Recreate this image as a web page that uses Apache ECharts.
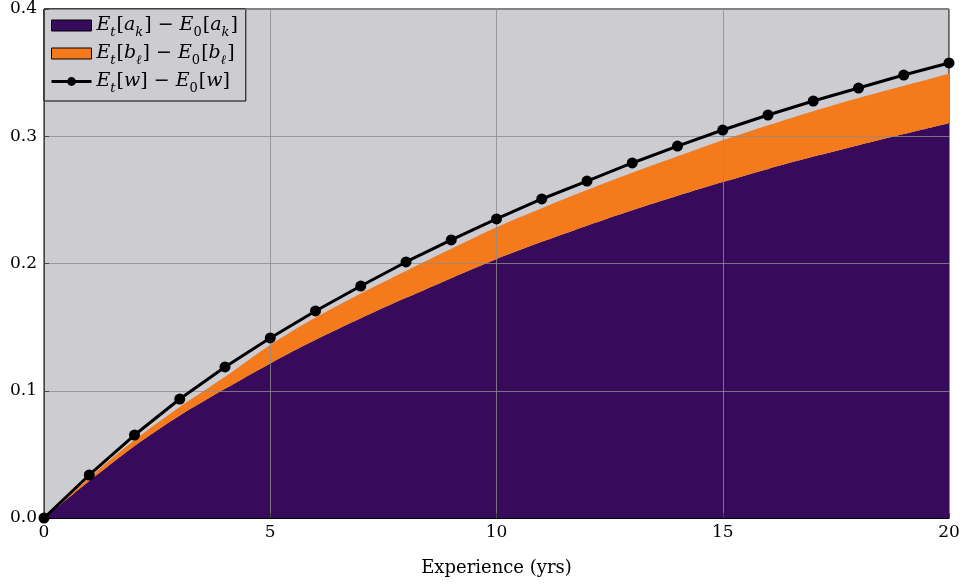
<!DOCTYPE html>
<html>
<head>
<meta charset="utf-8">
<script src="https://cdn.jsdelivr.net/npm/echarts@6/dist/echarts.min.js"></script>
<style>
  html, body { margin: 0; padding: 0; background: #ffffff; }
  #chart { width: 964px; height: 586px; }
</style>
</head>
<body>
<div id="chart"></div>
<script>
// Years of experience
const years = [0, 1, 2, 3, 4, 5, 6, 7, 8, 9, 10, 11, 12, 13, 14, 15, 16, 17, 18, 19, 20];
// Change in the a_k component
const akGain = [0, 0.029, 0.0565, 0.0805, 0.1015, 0.1215, 0.14, 0.157, 0.173, 0.1885, 0.2035,
  0.217, 0.2297, 0.2418, 0.2532, 0.264, 0.2743, 0.284, 0.293, 0.3017, 0.3102];
// Change in the b_l component (stacked on top of a_k)
const blGain = [0, 0.0027, 0.0048, 0.0068, 0.0095, 0.0145, 0.0175, 0.0195, 0.0212, 0.023, 0.025,
  0.0265, 0.028, 0.0295, 0.031, 0.0328, 0.0343, 0.0357, 0.037, 0.038, 0.039];
// Total change in wages
const wGain = [0, 0.0338, 0.0652, 0.0935, 0.1187, 0.1415, 0.1627, 0.1823, 0.2012, 0.2185, 0.235,
  0.2507, 0.2648, 0.279, 0.2923, 0.3049, 0.3167, 0.3277, 0.3379, 0.3481, 0.3576];
const yTicks = [0, 0.1, 0.2, 0.3, 0.4];
const xTicks = [0, 5, 10, 15, 20];

const seriesNames = ['ak', 'bl', 'w'];
// Legend text as rich-text fragments: E_t[x] − E_0[x]
const legendRich = {
  ak: '{i|E}{s|t}{n|[}{i|a}{s|k}{n|] − }{i|E}{z|0}{n|[}{i|a}{s|k}{n|]}',
  bl: '{i|E}{s|t}{n|[}{i|b}{s|ℓ}{n|] − }{i|E}{z|0}{n|[}{i|b}{s|ℓ}{n|]}',
  w:  '{i|E}{s|t}{n|[}{i|w}{n|] − }{i|E}{z|0}{n|[}{i|w}{n|]}'
};

const purple = '#380a5c';
const orange = '#f47a1b';
const panel = '#cdccd1';
const serif = '"DejaVu Serif", "Liberation Serif", serif';

const showTick = (idx, val) => xTicks.includes(Number(val));

const chart = echarts.init(document.getElementById('chart'), null, { renderer: 'canvas' });

chart.setOption({
  animation: false,
  backgroundColor: '#ffffff',
  grid: {
    left: 44, right: 15, top: 9, bottom: 68,
    show: true,
    backgroundColor: panel,
    borderColor: '#000000',
    borderWidth: 1
  },
  legend: {
    data: [
      { name: seriesNames[0], icon: 'rect', itemStyle: { color: purple, borderColor: '#000', borderWidth: 1 } },
      { name: seriesNames[1], icon: 'rect', itemStyle: { color: orange, borderColor: '#000', borderWidth: 1 } },
      { name: seriesNames[2], lineStyle: { width: 3, color: '#000' }, itemStyle: { color: '#000' } }
    ],
    orient: 'vertical',
    left: 44, top: 9,
    padding: [7, 8, 6, 6],
    itemGap: 5,
    itemWidth: 40,
    itemHeight: 11,
    backgroundColor: panel,
    borderColor: '#000000',
    borderWidth: 1,
    borderRadius: 0,
    formatter: name => legendRich[name],
    textStyle: {
      fontFamily: serif,
      fontSize: 19,
      color: '#000',
      rich: {
        i: { fontFamily: serif, fontStyle: 'italic', fontSize: 19, lineHeight: 27, verticalAlign: 'middle', color: '#000' },
        n: { fontFamily: serif, fontSize: 19, lineHeight: 27, verticalAlign: 'middle', color: '#000' },
        s: { fontFamily: serif, fontStyle: 'italic', fontSize: 13, lineHeight: 27, verticalAlign: 'bottom', color: '#000', padding: [0, 1, 0, 0] },
        z: { fontFamily: serif, fontSize: 13, lineHeight: 27, verticalAlign: 'bottom', color: '#000', padding: [0, 1, 0, 0] }
      }
    }
  },
  xAxis: {
    type: 'category',
    data: years,
    boundaryGap: false,
    z: 5,
    name: 'Experience (yrs)',
    nameLocation: 'middle',
    nameGap: 41,
    nameTextStyle: { fontFamily: serif, fontSize: 18, color: '#000' },
    axisLine: { show: true, lineStyle: { color: '#000', width: 1 } },
    axisTick: { show: true, inside: true, length: 5, interval: showTick, alignWithLabel: true, lineStyle: { color: '#444' } },
    axisLabel: { fontFamily: serif, fontSize: 17, color: '#000', margin: 6, interval: showTick },
    splitLine: { show: true, interval: showTick, lineStyle: { color: 'rgba(140,140,140,0.8)', width: 1 } }
  },
  yAxis: {
    type: 'value',
    min: yTicks[0], max: yTicks[yTicks.length - 1], interval: 0.1,
    z: 5,
    axisLine: { show: true, lineStyle: { color: '#444', width: 1 } },
    axisTick: { show: true, inside: true, length: 5, lineStyle: { color: '#444' } },
    axisLabel: { fontFamily: serif, fontSize: 17, color: '#000', margin: 7, formatter: v => v.toFixed(1) },
    splitLine: { show: true, lineStyle: { color: 'rgba(140,140,140,0.8)', width: 1 } }
  },
  series: [
    {
      name: seriesNames[0],
      type: 'line',
      stack: 'gain',
      data: akGain,
      smooth: 0.3,
      symbol: 'none',
      lineStyle: { width: 0, color: purple },
      itemStyle: { color: purple },
      areaStyle: { color: purple, opacity: 1 },
      z: 2
    },
    {
      name: seriesNames[1],
      type: 'line',
      stack: 'gain',
      data: blGain,
      smooth: 0.3,
      symbol: 'none',
      lineStyle: { width: 0, color: orange },
      itemStyle: { color: orange },
      areaStyle: { color: orange, opacity: 1 },
      z: 2
    },
    {
      name: seriesNames[2],
      type: 'line',
      data: wGain,
      symbol: 'circle',
      symbolSize: 11,
      showAllSymbol: true,
      clip: false,
      lineStyle: { width: 3, color: '#000' },
      itemStyle: { color: '#000' },
      z: 10
    }
  ]
});
</script>
</body>
</html>
